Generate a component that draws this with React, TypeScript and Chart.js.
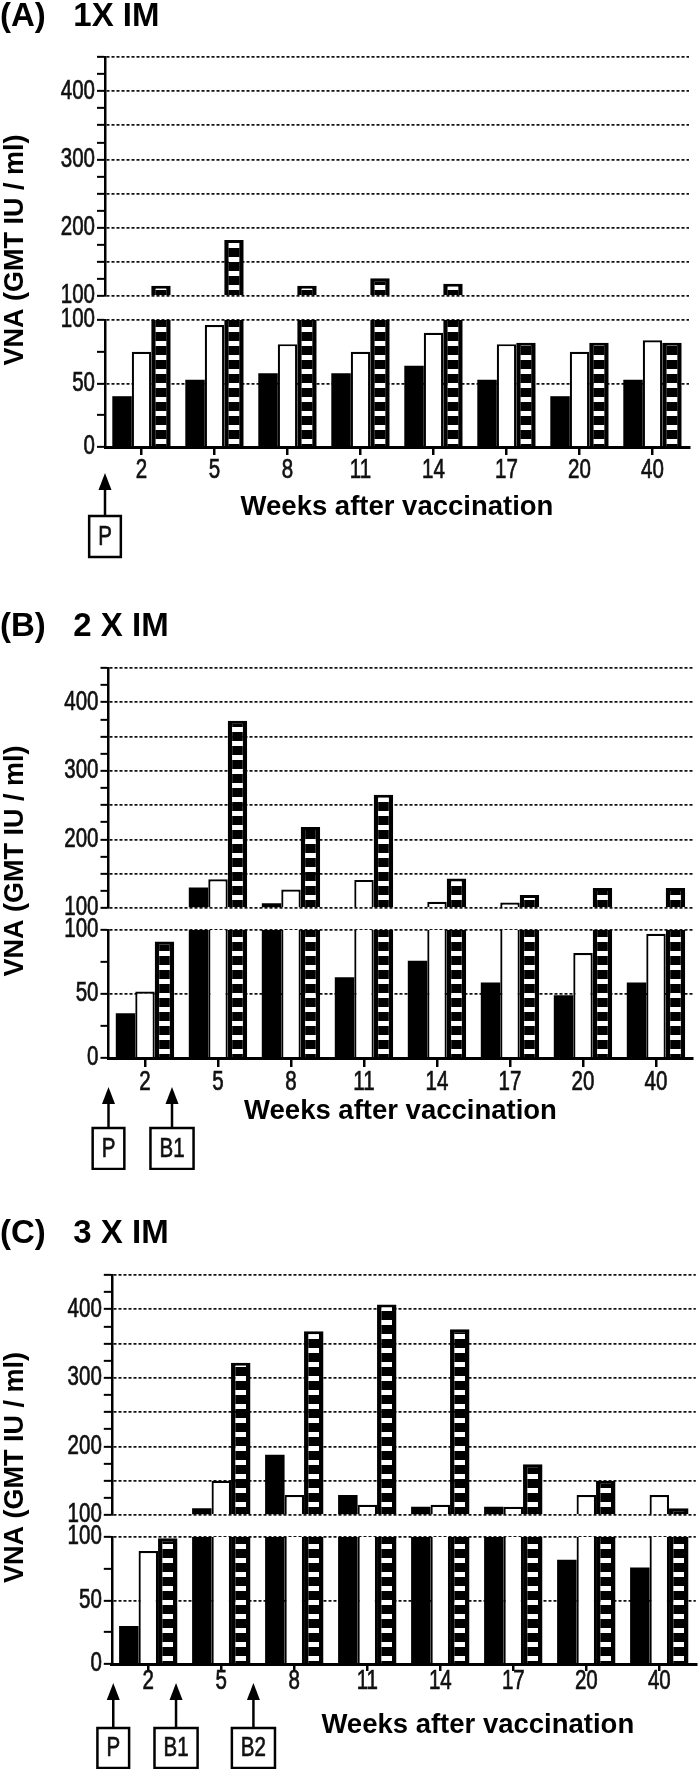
import React, { useEffect, useRef } from 'react';
import { Chart, registerables } from 'chart.js';

Chart.register(...registerables);

// ---------- data ----------
const weeks = ['2', '5', '8', '11', '14', '17', '20', '40'];
const yTitle = 'VNA (GMT IU / ml)';
const xTitle = 'Weeks after vaccination';
const upperTickLabels = [100, 200, 300, 400];
const lowerTickLabels = [0, 50, 100];

// Panel A: 1X IM
const titleA = '(A)   1X IM';
const aBlack = [40, 53, 58, 58, 64, 53, 40, 53];
const aWhite = [75, 96, 81, 75, 90, 81, 75, 84];
const aStriped = [115, 182, 115, 126, 118, 82, 82, 82];
const markerLabelsA = ['P'];
const markerPosA = [-0.5];

// Panel B: 2 X IM
const titleB = '(B)   2 X IM';
const bBlack = [35, 130, 107, 63, 76, 59, 49, 59];
const bWhite = [52, 142, 127, 141, 109, 108, 82, 97];
const bStriped = [91, 373, 218, 265, 143, 119, 129, 129];
const markerLabelsB = ['P', 'B1'];
const markerPosB = [-0.5, 0.37];

// Panel C: 3 X IM
const titleC = '(C)   3 X IM';
const cBlack = [30, 110, 188, 129, 112, 112, 82, 76];
const cWhite = [89, 150, 129, 115, 115, 112, 129, 129];
const cStriped = [99, 322, 368, 407, 371, 174, 150, 110];
const markerLabelsC = ['P', 'B1', 'B2'];
const markerPosC = [-0.48, 0.38, 1.44];

// ---------- styling / layout ----------
const SANS = "'Liberation Sans', Arial, sans-serif";
const NARROW_SIZE = 27;
const NARROW_SX = 0.76;

type Layout = {
  top: number; height: number; left: number; titleBand: number;
  upper: number; gap: number; lower: number; xBand: number;
  tickLen: number; labelDy: number; xTitleDy: number; xTitleDx: number;
  arrowTip: number; boxTop: number; boxH: number;
};

const layoutA: Layout = { top: 0, height: 560, left: 105, titleBand: 57, upper: 239, gap: 24, lower: 127, xBand: 75, tickLen: 8, labelDy: 24, xTitleDy: 60, xTitleDx: 0, arrowTip: 26, boxTop: 69, boxH: 41 };
const layoutB: Layout = { top: 610, height: 560, left: 108.5, titleBand: 58, upper: 240, gap: 22, lower: 128, xBand: 75, tickLen: 9, labelDy: 24.5, xTitleDy: 53, xTitleDx: 0, arrowTip: 29, boxTop: 70, boxH: 41 };
const layoutC: Layout = { top: 1217, height: 552, left: 111.8, titleBand: 58, upper: 240, gap: 22, lower: 127, xBand: 75, tickLen: 7, labelDy: 17.5, xTitleDy: 61, xTitleDx: 74, arrowTip: 19, boxTop: 64, boxH: 40 };

const PLOT_W = 584;

function makeStripePattern(): CanvasPattern | string {
  const c = document.createElement('canvas');
  c.width = 8;
  c.height = 14;
  const g = c.getContext('2d');
  if (!g) return '#000';
  g.fillStyle = '#000';
  g.fillRect(0, 0, 8, 14);
  g.fillStyle = '#fff';
  g.fillRect(0, 5, 8, 5);
  return g.createPattern(c, 'repeat') || '#000';
}

function narrowText(ctx: CanvasRenderingContext2D, text: string, x: number, y: number, align: CanvasTextAlign) {
  ctx.save();
  ctx.translate(x, y);
  ctx.scale(NARROW_SX, 1);
  ctx.font = `${NARROW_SIZE}px ${SANS}`;
  ctx.fillStyle = '#111';
  ctx.strokeStyle = '#111';
  ctx.lineWidth = 0.7;
  ctx.textAlign = align;
  ctx.textBaseline = 'middle';
  ctx.fillText(text, 0, 0);
  ctx.strokeText(text, 0, 0);
  ctx.restore();
}

type PanelProps = {
  title: string; black: number[]; white: number[]; striped: number[];
  markerLabels: string[]; markerPos: number[]; L: Layout;
};

function Panel({ title, black, white, striped, markerLabels, markerPos, L }: PanelProps) {
  const ref = useRef<HTMLCanvasElement>(null);

  useEffect(() => {
    const canvas = ref.current;
    if (!canvas) return;
    const stripe = makeStripePattern();
    const low = (arr: number[]) => arr.map((v) => (v == null ? null : Math.min(v, 100)));
    const high = (arr: number[]) => arr.map((v) => (v != null && v > 100 ? v : null));
    const clipped = (arr: number[], i: number) => arr[i] != null && arr[i] > 100;

    const dark = '#111';
    const none = 'rgba(0,0,0,0)';

    const annot = {
      id: 'annot',
      afterDraw(chart: any) {
        const { ctx, chartArea, scales } = chart;
        // y-axis title
        ctx.save();
        ctx.translate(16, (chartArea.top + chartArea.bottom) / 2 - 2);
        ctx.rotate(-Math.PI / 2);
        ctx.font = `bold 27px ${SANS}`;
        ctx.fillStyle = '#000';
        ctx.textAlign = 'center';
        ctx.textBaseline = 'middle';
        ctx.fillText(yTitle, 0, 0);
        ctx.restore();

        // x-axis title
        ctx.save();
        ctx.font = `bold 27.5px ${SANS}`;
        ctx.fillStyle = '#000';
        ctx.textAlign = 'center';
        ctx.textBaseline = 'middle';
        ctx.fillText(xTitle, (chartArea.left + chartArea.right) / 2 + L.xTitleDx, chartArea.bottom + L.xTitleDy);
        ctx.restore();

        // tick labels (condensed)
        const xs = scales.x;
        weeks.forEach((w, i) => narrowText(ctx, w, xs.getPixelForValue(i), chartArea.bottom + L.labelDy, 'center'));
        upperTickLabels.forEach((v) => narrowText(ctx, String(v), chartArea.left - 10, scales.yHigh.getPixelForValue(v), 'right'));
        lowerTickLabels.forEach((v) => narrowText(ctx, String(v), chartArea.left - 10, scales.yLow.getPixelForValue(v), 'right'));

        // vaccination markers
        markerLabels.forEach((lab, i) => {
          const x = xs.getPixelForValue(markerPos[i]);
          const tip = chartArea.bottom + L.arrowTip;
          const boxTop = chartArea.bottom + L.boxTop;
          ctx.save();
          ctx.strokeStyle = '#000';
          ctx.fillStyle = '#000';
          ctx.lineWidth = 2.5;
          ctx.beginPath();
          ctx.moveTo(x, tip + 10);
          ctx.lineTo(x, boxTop);
          ctx.stroke();
          ctx.beginPath();
          ctx.moveTo(x, tip);
          ctx.lineTo(x - 6.5, tip + 17);
          ctx.lineTo(x + 6.5, tip + 17);
          ctx.closePath();
          ctx.fill();
          ctx.font = `${NARROW_SIZE}px ${SANS}`;
          const w = ctx.measureText(lab).width * NARROW_SX + 18;
          ctx.strokeRect(x - w / 2, boxTop, w, L.boxH);
          ctx.restore();
          narrowText(ctx, lab, x, boxTop + L.boxH / 2 + 1, 'center');
        });
      },
    };

    const yCommon = (weightOrder: number, stackWeight: number) => ({
      type: 'linear' as const,
      position: 'left' as const,
      stack: 'v',
      stackWeight,
      weight: weightOrder,
      stacked: false,
      afterFit: (s: any) => { s.width = L.left; },
    });

    const chartBottomRel = L.titleBand + L.upper + L.gap + L.lower;

    const chart = new Chart(canvas, {
      type: 'bar',
      data: {
        labels: weeks,
        datasets: [
          { label: 'lowBlack', data: low(black), yAxisID: 'yLow', stack: 'black', backgroundColor: '#000', borderWidth: 0 },
          {
            label: 'lowWhite', data: low(white), yAxisID: 'yLow', stack: 'white', backgroundColor: '#fff', borderColor: '#000',
            borderSkipped: false,
            borderWidth: (c: any) => ({ left: 2.2, right: 2.2, bottom: 0, top: clipped(white, c.dataIndex) ? 0 : 2.2 }),
          },
          {
            label: 'lowStriped', data: low(striped), yAxisID: 'yLow', stack: 'striped', backgroundColor: stripe, borderColor: '#000',
            borderSkipped: false,
            borderWidth: (c: any) => ({ left: 4.5, right: 4.5, bottom: 0, top: clipped(striped, c.dataIndex) ? 0 : 3 }),
          },
          { label: 'highBlack', data: high(black), yAxisID: 'yHigh', stack: 'black', base: 100, backgroundColor: '#000', borderWidth: 0 },
          {
            label: 'highWhite', data: high(white), yAxisID: 'yHigh', stack: 'white', base: 100, backgroundColor: '#fff', borderColor: '#000',
            borderSkipped: false, borderWidth: { left: 2.2, right: 2.2, top: 2.2, bottom: 0 },
          },
          {
            label: 'highStriped', data: high(striped), yAxisID: 'yHigh', stack: 'striped', base: 100, backgroundColor: stripe, borderColor: '#000',
            borderSkipped: false, borderWidth: { left: 4.5, right: 4.5, top: 3, bottom: 0 },
          },
        ] as any,
      },
      options: {
        responsive: false,
        animation: false,
        devicePixelRatio: 1,
        events: [],
        categoryPercentage: 0.8,
        barPercentage: 1.0,
        layout: {
          padding: {
            left: 0, top: 0,
            right: 700 - L.left - PLOT_W,
            bottom: L.height - chartBottomRel - L.xBand,
          },
        },
        plugins: {
          legend: { display: false },
          tooltip: { enabled: false },
          title: {
            display: true, text: title, align: 'start', color: '#000',
            font: { family: SANS, size: 33, weight: 'bold', lineHeight: 1 },
            padding: { top: 0, bottom: L.titleBand - 33 },
          },
        },
        scales: {
          x: {
            type: 'category',
            offset: true,
            grid: { display: true, drawOnChartArea: false, drawTicks: true, tickLength: L.tickLen, offset: false, color: '#000', lineWidth: 2.5 },
            border: { display: true, color: '#000', width: 3, z: 1 },
            ticks: { display: false, autoSkip: false },
            afterFit: (s: any) => { s.height = L.xBand; },
          },
          yHigh: {
            ...yCommon(3, L.upper),
            min: 100, max: 450,
            ticks: { display: false, stepSize: 25, autoSkip: false },
            grid: {
              drawOnChartArea: true, tickLength: 8, tickWidth: 2, tickColor: '#000', lineWidth: 1.7,
              color: (c: any) => (c.tick && c.tick.value % 50 === 0 ? dark : none),
            },
            border: { display: true, color: '#000', width: 2.5, dash: [3, 2], z: 1 },
          },
          yGap: {
            ...yCommon(2, L.gap),
            display: true,
            ticks: { display: false },
            grid: { display: false, drawTicks: false },
            border: { display: false },
          },
          yLow: {
            ...yCommon(1, L.lower),
            min: 0, max: 100,
            ticks: { display: false, stepSize: 25, autoSkip: false },
            grid: {
              drawOnChartArea: true, tickLength: 8, tickWidth: 2, tickColor: '#000', lineWidth: 1.7,
              color: (c: any) => (c.tick && c.tick.value > 0 && c.tick.value % 50 === 0 ? dark : none),
            },
            border: { display: true, color: '#000', width: 2.5, dash: [3, 2], z: 1 },
          },
        },
      } as any,
      plugins: [annot],
    });

    return () => chart.destroy();
  }, [title, black, white, striped, markerLabels, markerPos, L]);

  return (
    <canvas
      ref={ref}
      width={700}
      height={L.height}
      style={{ position: 'absolute', left: 0, top: L.top, width: 700, height: L.height, display: 'block' }}
    />
  );
}

export default function App() {
  return (
    <div style={{ position: 'absolute', left: 0, top: 0, width: 700, height: 1769, background: '#fff', overflow: 'hidden' }}>
      <Panel title={titleA} black={aBlack} white={aWhite} striped={aStriped} markerLabels={markerLabelsA} markerPos={markerPosA} L={layoutA} />
      <Panel title={titleB} black={bBlack} white={bWhite} striped={bStriped} markerLabels={markerLabelsB} markerPos={markerPosB} L={layoutB} />
      <Panel title={titleC} black={cBlack} white={cWhite} striped={cStriped} markerLabels={markerLabelsC} markerPos={markerPosC} L={layoutC} />
    </div>
  );
}
